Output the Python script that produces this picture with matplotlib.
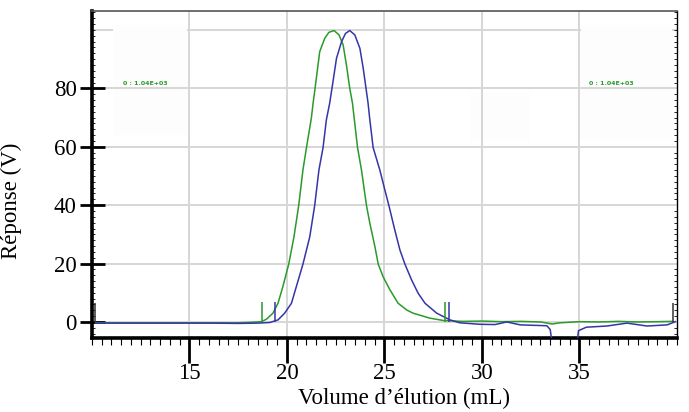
import matplotlib
matplotlib.use("Agg")
import matplotlib.pyplot as plt
from matplotlib.ticker import MultipleLocator

plt.rcParams['font.family'] = ['Liberation Serif', 'DejaVu Serif']

# elution volume (mL) / response (V)
green_x = [10.2, 12.0, 14.0, 16.0, 17.5, 18.2, 18.68, 18.94, 19.28, 19.54, 19.79,
           20.09, 20.36, 20.60, 20.82, 21.0, 21.25, 21.34, 21.45, 21.68, 21.94,
           22.15, 22.42, 22.67, 22.88, 23.05, 23.22, 23.36, 23.62, 23.82, 24.08,
           24.25, 24.51, 24.68, 24.93, 25.28, 25.70, 26.14, 26.47, 27.33, 28.02,
           29.0, 30.0, 31.0, 32.0, 33.0, 33.6, 34.0, 35.0, 36.0, 37.0, 38.0,
           39.0, 39.8]
green_y = [-0.3, -0.3, -0.3, -0.3, -0.3, -0.1, 0.1, 0.9, 3.0, 6.4, 12.1,
           19.8, 29.2, 39.8, 52.1, 59.7, 69.8, 74.9, 80.5, 92.6, 97.2,
           99.2, 99.8, 98.3, 94.9, 88.0, 80.0, 74.9, 59.7, 52.1, 39.8,
           33.8, 25.8, 19.8, 15.5, 11.0, 6.4, 4.1, 3.0, 1.3, 0.5,
           0.2, 0.3, 0.1, 0.2, 0.0, -0.7, -0.3, 0.1, 0.0, 0.2, 0.0,
           0.1, 0.2]

blue_x = [10.2, 12.0, 14.0, 16.0, 17.5, 18.5, 19.11, 19.54, 19.88, 20.23, 20.48,
          20.82, 21.17, 21.42, 21.64, 21.85, 22.02, 22.19, 22.36, 22.54, 22.80,
          23.0, 23.22, 23.48, 23.74, 23.91, 24.06, 24.16, 24.25, 24.42, 24.76,
          25.02, 25.23, 25.53, 25.79, 26.05, 26.39, 26.73, 27.08, 27.68, 28.36,
          28.87, 29.9, 30.67, 31.27, 31.96, 33.33, 33.5, 33.7, 34.8, 34.95,
          35.35, 36.4, 37.44, 38.47, 39.5, 39.92]
blue_y = [-0.4, -0.4, -0.4, -0.4, -0.5, -0.4, -0.2, 0.7, 3.0, 6.4, 12.1,
          19.8, 29.2, 39.8, 52.1, 59.7, 69.2, 74.9, 82.3, 90.3, 96.0,
          98.8, 99.8, 98.3, 93.7, 86.9, 79.7, 74.9, 69.2, 59.7, 52.1,
          45.2, 39.8, 31.5, 24.7, 19.8, 14.4, 9.8, 6.4, 3.0, 0.7,
          -0.3, -0.8, -0.9, 0.0, -1.0, -1.3, -2.6, -12.0, -12.0, -3.0,
          -1.8, -1.4, -0.4, -1.4, -1.0, 0.1]

# integration markers
green_marks = [18.74, 28.10]
blue_marks = [19.40, 28.32]
end_marks = [10.15, 39.8]

green = '#2a9a2a'
blue = '#3535a8'
grid_col = '#d6d6d6'

fig = plt.figure(figsize=(6.89, 4.12), dpi=100)
ax = fig.add_axes([0.1335, 0.1796, 0.849, 0.7937])

ax.set_xlim(10, 40)
ax.set_ylim(-5.5, 106.5)

ax.set_xticks([15, 20, 25, 30, 35])
ax.xaxis.set_minor_locator(MultipleLocator(0.5))
ax.set_yticks([0, 20, 40, 60, 80])
ax.yaxis.set_minor_locator(MultipleLocator(2))

ax.grid(True, color=grid_col, linewidth=1.4, zorder=0)
ax.axhline(100, color=grid_col, linewidth=1.4, zorder=0)

# pasted white patches in the original screenshot
for (x0, y0, w, h) in [(0.036, 0.621, 0.126, 0.336),
                       (0.836, 0.605, 0.155, 0.352),
                       (0.646, 0.602, 0.103, 0.147)]:
    ax.add_patch(plt.Rectangle((x0, y0), w, h, transform=ax.transAxes,
                               facecolor='#fdfdfd', edgecolor='none', zorder=1))
ax.text(0.053, 0.773, '0 : 1.04E+03', transform=ax.transAxes, color=green,
        fontsize=4.5, fontweight='bold', family='DejaVu Sans', zorder=2)
ax.text(0.850, 0.773, '0 : 1.04E+03', transform=ax.transAxes, color=green,
        fontsize=4.5, fontweight='bold', family='DejaVu Sans', zorder=2)

ax.plot(green_x, green_y, color=green, linewidth=1.1, zorder=3)
ax.plot(blue_x, blue_y, color=blue, linewidth=1.1, zorder=3)
ax.vlines(green_marks, 0, 7, color=green, linewidth=1.1, zorder=3)
ax.vlines(blue_marks, 0, 7, color=blue, linewidth=1.1, zorder=3)
ax.vlines(end_marks, 0, 6.5, color='#333333', linewidth=1.1, zorder=3)

for s in ['left', 'bottom']:
    ax.spines[s].set_linewidth(2.6)
    ax.spines[s].set_color('black')
ax.spines['right'].set_linewidth(1.0)
ax.spines['top'].set_linewidth(1.2)
ax.spines['top'].set_color('#555555')

ax.tick_params(axis='x', which='major', direction='out', length=18, width=2,
               labelsize=16.5, pad=0)
ax.tick_params(axis='x', which='minor', direction='out', length=5, width=0.8)
ax.tick_params(axis='y', which='major', direction='inout', length=18, width=2,
               labelsize=16.5, pad=2)
ax.tick_params(axis='y', which='minor', direction='in', length=2, width=0.6,
               right=True)

ax.set_xlabel("Volume d\u2019élution (mL)", fontsize=16.5)
ax.set_ylabel("Réponse (V)", fontsize=16.5)
ax.xaxis.set_label_coords(0.533, -0.152)
ax.yaxis.set_label_coords(-0.12, 0.42)

fig.savefig('out.png', dpi=100)
